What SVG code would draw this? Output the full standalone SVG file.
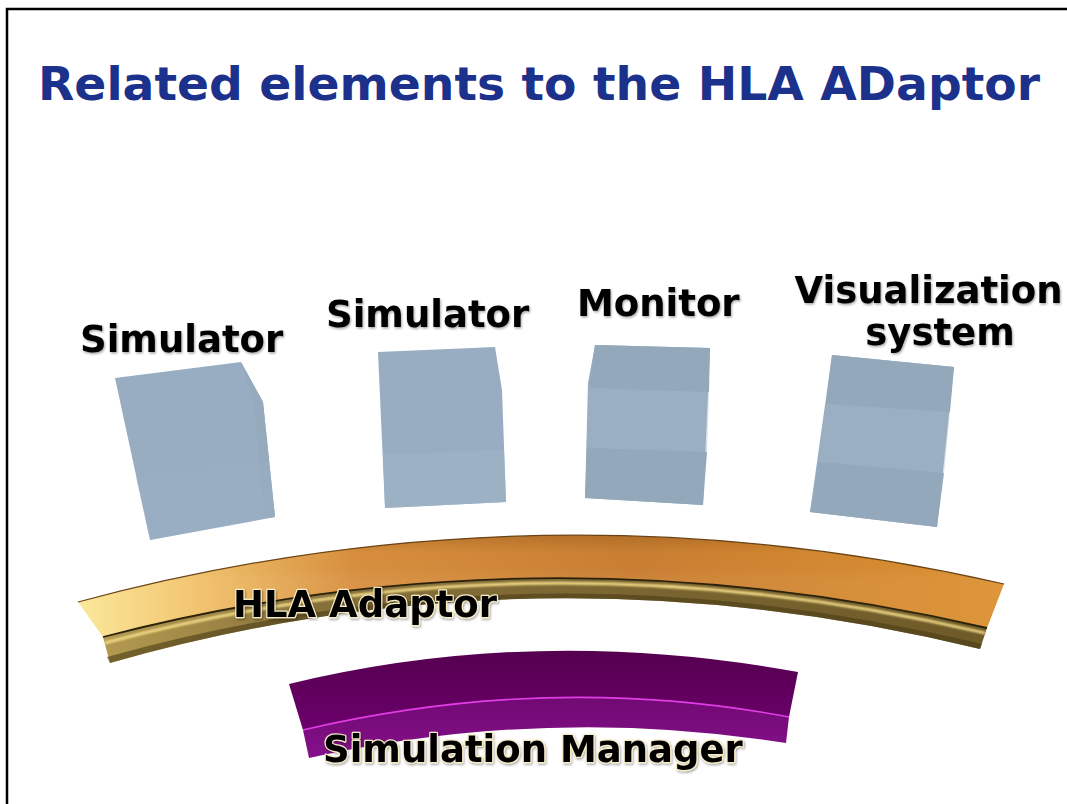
<svg xmlns="http://www.w3.org/2000/svg" width="1067" height="804" viewBox="0 0 1067 804">
  <defs>
    <style>
      .title { font-family: "DejaVu Sans", Verdana, sans-serif; font-weight: bold; font-size: 46px; fill: #1b318b; }
      .label { font-family: "DejaVu Sans", Verdana, sans-serif; font-weight: bold; font-size: 37px; fill: #050505; filter: url(#soft); }
      .glow { stroke: #f6ecc4; stroke-width: 2.4px; paint-order: stroke; stroke-linejoin: round; }
      .cube { fill: #99adc2; filter: url(#edge); }
      .cube-dark { fill: #94a8bc; }
      .cube-light { fill: #9eb2c6; }
      .cube-side { fill: #96aabe; }
    </style>
    <filter id="soft" x="-5%" y="-20%" width="110%" height="140%">
      <feDropShadow dx="1" dy="1.5" stdDeviation="1.2" flood-color="#000" flood-opacity="0.35"/>
    </filter>
    <filter id="edge" x="-5%" y="-5%" width="110%" height="110%">
      <feGaussianBlur stdDeviation="0.6"/>
    </filter>
    <filter id="sheen" x="-2%" y="-20%" width="104%" height="140%">
      <feGaussianBlur stdDeviation="0.8"/>
    </filter>
    <!-- upper face of the adaptor band -->
    <linearGradient id="hlaTop" x1="78" y1="0" x2="1004" y2="0" gradientUnits="userSpaceOnUse">
      <stop offset="0" stop-color="#fbe796"/>
      <stop offset="0.12" stop-color="#f2c46c"/>
      <stop offset="0.3" stop-color="#d78e3d"/>
      <stop offset="0.6" stop-color="#c97e31"/>
      <stop offset="1" stop-color="#dc9030"/>
    </linearGradient>
    <linearGradient id="hlaShade" x1="0" y1="535" x2="0" y2="580" gradientUnits="userSpaceOnUse">
      <stop offset="0" stop-color="#7a4a10" stop-opacity="0.3"/>
      <stop offset="0.4" stop-color="#7a4a10" stop-opacity="0"/>
      <stop offset="1" stop-color="#ffffff" stop-opacity="0.05"/>
    </linearGradient>
    <!-- metallic edge of the adaptor band, lighter toward the left -->
    <linearGradient id="hlaSide" x1="103" y1="0" x2="987" y2="0" gradientUnits="userSpaceOnUse">
      <stop offset="0" stop-color="#b49a50"/>
      <stop offset="0.25" stop-color="#86703a"/>
      <stop offset="1" stop-color="#6e5a28"/>
    </linearGradient>
    <linearGradient id="mgrTop" x1="0" y1="654" x2="0" y2="730" gradientUnits="userSpaceOnUse">
      <stop offset="0" stop-color="#560050"/>
      <stop offset="1" stop-color="#6c006c"/>
    </linearGradient>
    <linearGradient id="mgrSide" x1="0" y1="700" x2="0" y2="758" gradientUnits="userSpaceOnUse">
      <stop offset="0" stop-color="#720a74"/>
      <stop offset="1" stop-color="#84108a"/>
    </linearGradient>
  </defs>

  <rect width="1067" height="804" fill="#ffffff"/>
  <!-- page frame, top and left edges -->
  <path d="M7 804 V9 H1067" fill="none" stroke="#000" stroke-width="2.5"/>

  <g id="title">
    <text class="title" x="38" y="100" textLength="1002" lengthAdjust="spacingAndGlyphs">Related elements to the HLA ADaptor</text>
  </g>

  <g id="node-simulator-1">
    <polygon class="cube" points="115,378 241,362 263,402 275,517 150,540"/>
    <polygon class="cube-side" points="241,362 263,402 275,517 264,518 254,404"/>
    <polygon class="cube-light" opacity="0.3" points="136,478 268,462 275,517 150,540"/>
    <text class="label" x="80" y="352">Simulator</text>
  </g>

  <g id="node-simulator-2">
    <polygon class="cube" points="378,352 495,347 502,390 506,502 385,508"/>
    <polygon class="cube-light" opacity="0.8" points="383,455 504,450 506,502 385,508"/>
    <text class="label" x="326" y="327">Simulator</text>
  </g>

  <g id="node-monitor">
    <polygon class="cube" points="595,345 710,348 703,505 585,498 588,383"/>
    <polygon class="cube-dark" points="595,345 710,348 709,392 589,388"/>
    <polygon class="cube-light" opacity="0.4" points="589,388 709,392 707,452 587,448"/>
    <polygon class="cube-dark" points="587,448 707,452 703,505 585,498"/>
    <text class="label" x="577" y="316">Monitor</text>
  </g>

  <g id="node-visualization">
    <polygon class="cube" points="832,355 954,367 937,527 810,512"/>
    <polygon class="cube-dark" points="832,355 954,367 950,412 826,404"/>
    <polygon class="cube-light" opacity="0.4" points="826,404 950,412 944,473 819,462"/>
    <polygon class="cube-dark" points="819,462 944,473 937,527 810,512"/>
    <text class="label" text-anchor="middle">
      <tspan x="935" y="303">Visualization</tspan>
      <tspan x="940" y="345">system</tspan>
    </text>
  </g>

  <g id="node-hla-adaptor">
    <!-- edge face: gold metal with a bright sheen line -->
    <path d="M103 637 Q537 524 987 628 L980 649 Q536 541 110 663 Z" fill="url(#hlaSide)"/>
    <path d="M107 657 Q536.4 537 982 644 L980 649 Q536 541 110 663 Z" fill="#4a3c16" opacity="0.6"/>
    <path d="M104.5 643 Q536.8 528.5 985.2 633" fill="none" stroke="#f8e08a" stroke-width="2.8" filter="url(#sheen)"/>
    <!-- upper face -->
    <path d="M78 602 Q539 478 1004 584 L987 628 Q537 524 103 637 Z" fill="url(#hlaTop)"/>
    <path d="M78 602 Q539 478 1004 584 L987 628 Q537 524 103 637 Z" fill="url(#hlaShade)"/>
    <path d="M78 602 Q539 478 1004 584" fill="none" stroke="#6b4416" stroke-width="1.2"/>
    <path d="M103 637 Q537 524 987 628" fill="none" stroke="#2a220c" stroke-width="1.8"/>
    <text class="label glow" x="233" y="617">HLA Adaptor</text>
  </g>

  <g id="node-simulation-manager">
    <path d="M303 730 Q551 672 789 717 L786 743 Q549 705 309 758 Z" fill="url(#mgrSide)"/>
    <path d="M289 684 Q537 624 798 672 L789 717 Q551 672 303 730 Z" fill="url(#mgrTop)"/>
    <path d="M303 730 Q551 672 789 717" fill="none" stroke="#e03ee4" stroke-width="1.6"/>
    <text class="label glow" x="323" y="762">Simulation Manager</text>
  </g>

  <g id="connectors"/>
</svg>
